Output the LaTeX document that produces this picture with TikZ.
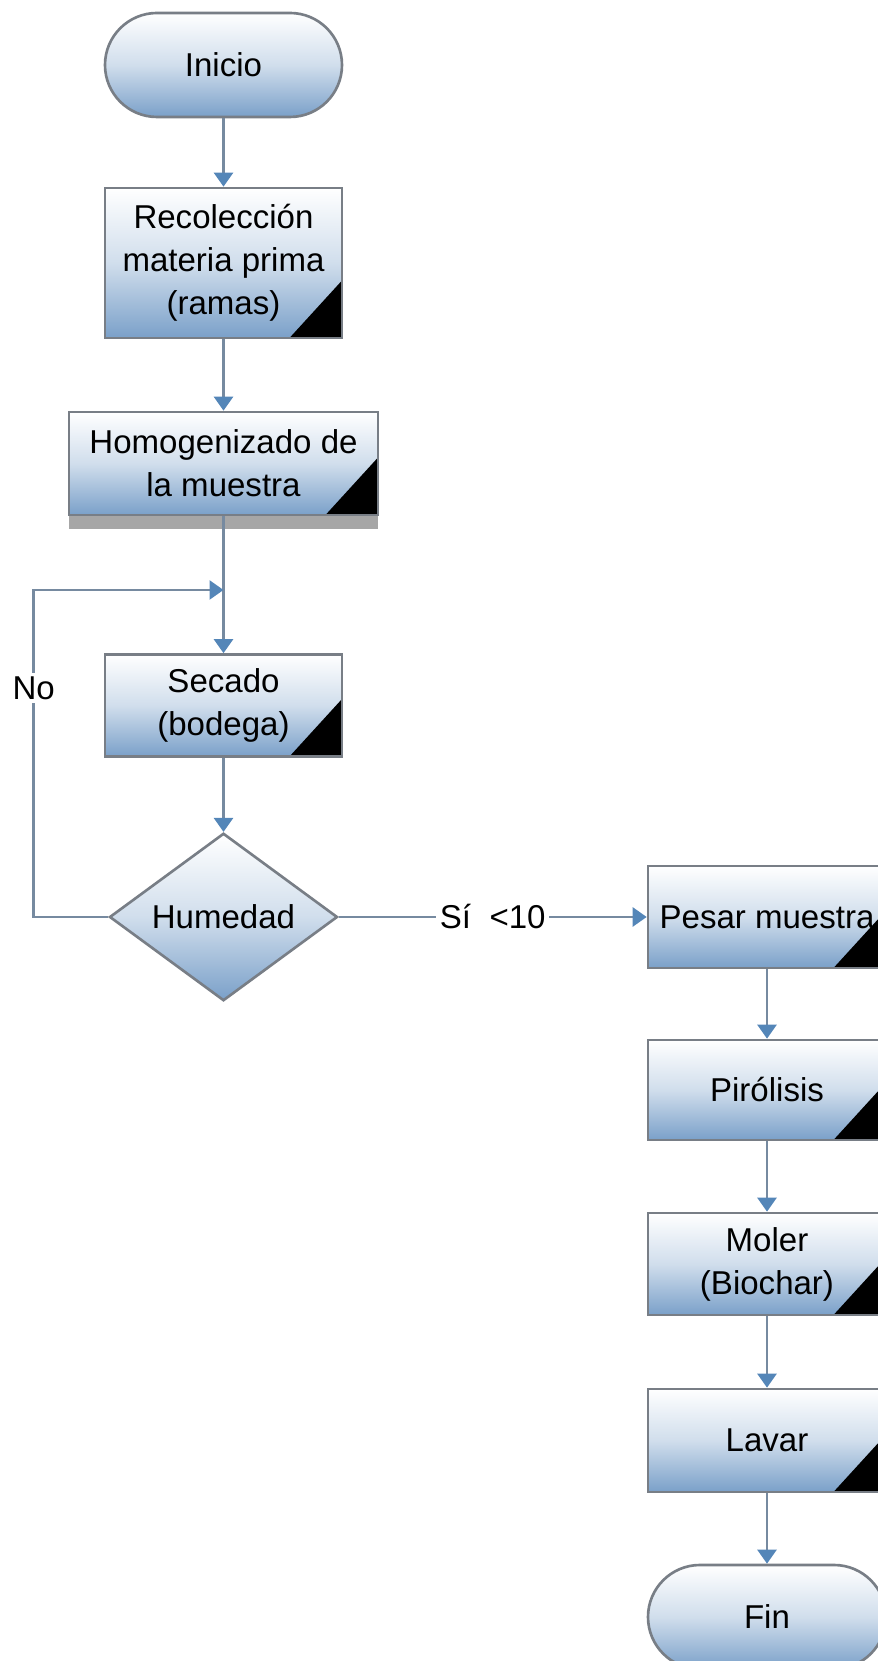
\documentclass[tikz,border=0pt]{standalone}
\usepackage{fontspec}
\setmainfont{Liberation Sans}
\usetikzlibrary{shapes.geometric, arrows.meta, shadows}

\definecolor{azulcaja}{RGB}{122,160,201}
\definecolor{bordegris}{RGB}{120,126,134}
\definecolor{lineagris}{RGB}{118,138,160}
\definecolor{azulflecha}{RGB}{84,134,184}

\begin{document}
\begin{tikzpicture}[
    font=\fontsize{18.8}{24.5}\selectfont,
    base/.style={draw=bordegris, line width=1.5pt, top color=white, bottom color=azulcaja,
        middle color=white!65!azulcaja, align=center, inner sep=0pt},
    proceso/.style={base, rectangle, minimum width=4.74cm, minimum height=2.04cm,
        path picture={\fill[black] (path picture bounding box.south east) -- ++(-1.05,0) -- ++(1.05,1.15) -- cycle;}},
    terminal/.style={base, rectangle, rounded corners=1.04cm, minimum width=4.74cm, minimum height=2.08cm},
    decision/.style={base, diamond, minimum width=4.56cm, minimum height=3cm},
    linea/.style={draw=lineagris, line width=1.5pt},
    flecha/.style={linea, -{Triangle[color=azulflecha, width=0.38cm, length=0.28cm]}},
    etiqueta/.style={fill=white, inner sep=2pt}
]
    \useasboundingbox (0,0) rectangle (17.54,33.22);

    % Columna izquierda
    \node[terminal] (inicio) at (4.47,31.92) {Inicio};
    \node[proceso, minimum height=3cm] (recoleccion) at (4.47,27.96) {Recolección\\materia prima\\(ramas)};
    \node[proceso, minimum width=6.18cm, minimum height=2.06cm,
        drop shadow={shadow xshift=0cm, shadow yshift=-0.28cm, opacity=0.35, fill=black}] (homog) at (4.47,23.95) {Homogenizado de\\la muestra};
    \node[proceso] (secado) at (4.47,19.11) {Secado\\(bodega)};
    \node[decision] (humedad) at (4.47,14.88) {Humedad};
    \coordinate (union) at (4.47,21.42);

    % Columna derecha
    \node[proceso, minimum width=4.76cm] (pesar) at (15.34,14.88) {Pesar muestra};
    \node[proceso, minimum width=4.76cm, minimum height=2cm] (pirolisis) at (15.34,11.42) {Pirólisis};
    \node[proceso, minimum width=4.76cm] (moler) at (15.34,7.94) {Moler\\(Biochar)};
    \node[proceso, minimum width=4.76cm, minimum height=2.06cm] (lavar) at (15.34,4.41) {Lavar};
    \node[terminal, minimum width=4.76cm] (fin) at (15.34,0.88) {Fin};

    % Conectores
    \draw[flecha] (inicio) -- (recoleccion);
    \draw[flecha] (recoleccion) -- (homog);
    \draw[flecha] (homog) -- (secado);
    \draw[flecha] (secado) -- (humedad);
    \draw[flecha] (humedad.west) -- ++(-1.49,0) |- node[etiqueta, pos=0.35] (no) {No} (union);
    \draw[flecha] (humedad) -- node[etiqueta] (si) {Sí\ \ <10} (pesar);
    \draw[flecha] (pesar) -- (pirolisis);
    \draw[flecha] (pirolisis) -- (moler);
    \draw[flecha] (moler) -- (lavar);
    \draw[flecha] (lavar) -- (fin);

\end{tikzpicture}
\end{document}
